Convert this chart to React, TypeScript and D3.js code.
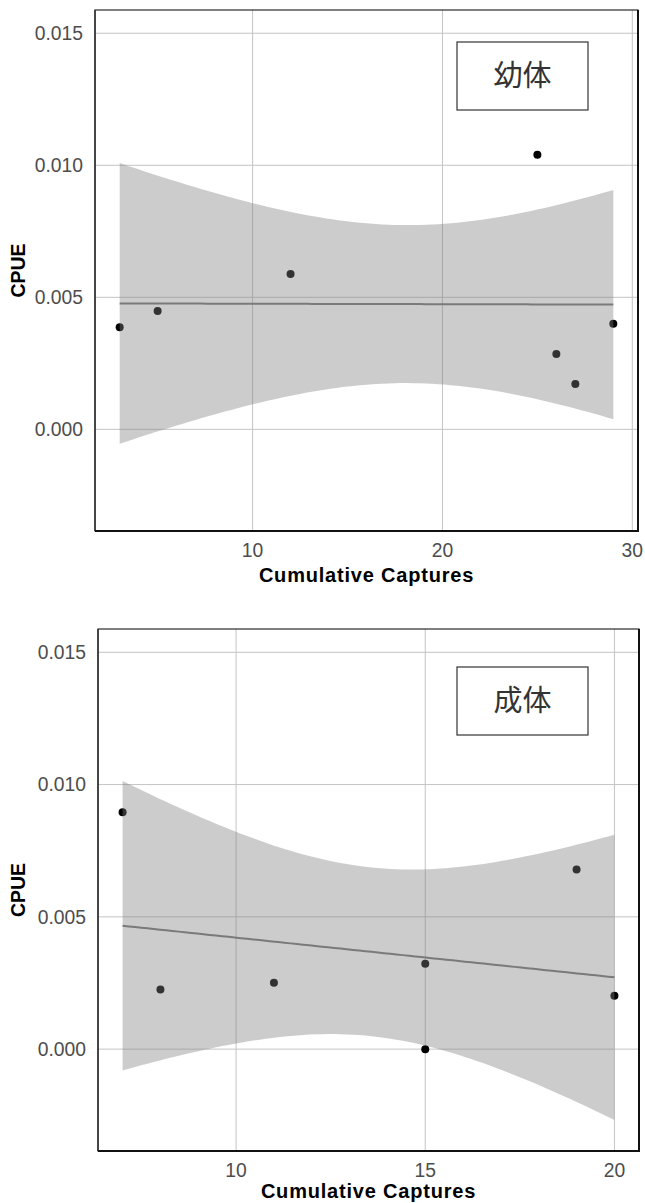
import React, { useEffect, useRef } from 'react';
import * as d3 from 'd3';

// 幼体 (juveniles)
const juvX = [3, 5, 12, 25, 26, 27, 29];
const juvY = [0.00387, 0.00448, 0.00588, 0.0104, 0.00285, 0.00172, 0.004];

// 成体 (adults)
const adultX = [7, 8, 11, 15, 15, 19, 20];
const adultY = [0.00895, 0.00225, 0.00251, 0.00323, 0.0, 0.00679, 0.00202];

const yTicks = [0, 0.005, 0.01, 0.015];
const juvXTicks = [10, 20, 30];
const adultXTicks = [10, 15, 20];

const T_975_DF5 = 2.5706; // t quantile for 95% CI, n = 7

function lmBand(xs: number[], ys: number[]) {
  const n = xs.length;
  const mx = d3.mean(xs) as number;
  const my = d3.mean(ys) as number;
  const sxx = d3.sum(xs, (x) => (x - mx) ** 2);
  const sxy = d3.sum(xs.map((x, i) => (x - mx) * (ys[i] - my)));
  const b = sxy / sxx;
  const a = my - b * mx;
  const sse = d3.sum(xs.map((x, i) => (ys[i] - (a + b * x)) ** 2));
  const s = Math.sqrt(sse / (n - 2));
  const [lo, hi] = d3.extent(xs) as [number, number];
  const grid = d3.range(80).map((i) => lo + ((hi - lo) * i) / 79);
  return grid.map((x) => {
    const fit = a + b * x;
    const se = s * Math.sqrt(1 / n + (x - mx) ** 2 / sxx);
    return { x, fit, lo: fit - T_975_DF5 * se, hi: fit + T_975_DF5 * se };
  });
}

function drawPanel(svg: any, opt: any) {
  const { left, right, top, bottom, xs, ys, xDomain, xTicks, label, box, titleDy } = opt;
  const x = d3.scaleLinear().domain(xDomain).range([left, right]);
  const y = d3.scaleLinear().domain([-0.00385, 0.01588]).range([bottom, top]);
  const g = svg.append('g');

  // grid
  g.selectAll('.gy').data(yTicks).enter().append('line')
    .attr('x1', left).attr('x2', right)
    .attr('y1', (d: number) => y(d)).attr('y2', (d: number) => y(d))
    .attr('stroke', '#c4c4c4').attr('stroke-width', 1);
  g.selectAll('.gx').data(xTicks).enter().append('line')
    .attr('x1', (d: number) => x(d)).attr('x2', (d: number) => x(d))
    .attr('y1', top).attr('y2', bottom)
    .attr('stroke', '#c4c4c4').attr('stroke-width', 1);

  // points
  g.selectAll('.pt').data(xs).enter().append('circle')
    .attr('cx', (d: number) => x(d))
    .attr('cy', (_: number, i: number) => y(ys[i]))
    .attr('r', 4).attr('fill', '#000');

  // smooth (lm + 95% CI)
  const band = lmBand(xs, ys);
  g.append('path').datum(band)
    .attr('fill', '#808080').attr('fill-opacity', 0.4)
    .attr('d', d3.area<any>().x((d) => x(d.x)).y0((d) => y(d.lo)).y1((d) => y(d.hi)));
  g.append('path').datum(band)
    .attr('fill', 'none').attr('stroke', '#7a7a7a').attr('stroke-width', 2)
    .attr('d', d3.line<any>().x((d) => x(d.x)).y((d) => y(d.fit)));

  // border
  g.append('rect').attr('x', left).attr('y', top)
    .attr('width', right - left).attr('height', bottom - top)
    .attr('fill', 'none').attr('stroke', '#000').attr('stroke-width', 1);
  g.append('line').attr('x1', left).attr('x2', left).attr('y1', top).attr('y2', bottom)
    .attr('stroke', '#333').attr('stroke-width', 1.5);
  g.append('line').attr('x1', left).attr('x2', right + 1).attr('y1', bottom).attr('y2', bottom)
    .attr('stroke', '#111').attr('stroke-width', 2);
  g.append('line').attr('x1', right).attr('x2', right).attr('y1', top).attr('y2', bottom)
    .attr('stroke', '#111').attr('stroke-width', 2);

  // tick labels
  g.selectAll('.ty').data(yTicks).enter().append('text')
    .attr('x', left - 12).attr('y', (d: number) => y(d))
    .attr('dy', '0.35em').attr('text-anchor', 'end')
    .attr('font-family', 'Liberation Sans, Arial, sans-serif').attr('font-size', 19.3)
    .attr('fill', '#4d4d4d').text((d: number) => d3.format('.3f')(d));
  g.selectAll('.tx').data(xTicks).enter().append('text')
    .attr('x', (d: number) => x(d)).attr('y', bottom + 26)
    .attr('text-anchor', 'middle')
    .attr('font-family', 'Liberation Sans, Arial, sans-serif').attr('font-size', 19.3)
    .attr('fill', '#4d4d4d').text((d: number) => d);

  // axis titles
  g.append('text').attr('x', (left + right) / 2).attr('y', bottom + titleDy)
    .attr('text-anchor', 'middle').attr('font-weight', 'bold')
    .attr('font-family', 'Liberation Sans, Arial, sans-serif').attr('font-size', 20)
    .attr('letter-spacing', 0.8)
    .attr('fill', '#000').text('Cumulative Captures');
  g.append('text')
    .attr('transform', `translate(25,${(top + bottom) / 2}) rotate(-90)`)
    .attr('text-anchor', 'middle').attr('font-weight', 'bold')
    .attr('font-family', 'Liberation Sans, Arial, sans-serif').attr('font-size', 19.5)
    .attr('fill', '#000').text('CPUE');

  // label box
  g.append('rect').attr('x', box.x).attr('y', box.y).attr('width', 131).attr('height', 68)
    .attr('fill', '#fff').attr('stroke', '#333').attr('stroke-width', 1.2);
  g.append('text').attr('x', box.x + 65.5).attr('y', box.y + 34)
    .attr('dy', '0.36em').attr('text-anchor', 'middle')
    .attr('font-family', 'Noto Sans CJK JP, sans-serif').attr('font-size', 29)
    .attr('fill', '#333').text(label);
}

export default function App() {
  const ref = useRef<SVGSVGElement | null>(null);

  useEffect(() => {
    const svg = d3.select(ref.current);
    svg.selectAll('*').remove();
    svg.append('rect').attr('width', 645).attr('height', 1203).attr('fill', '#fff');
    drawPanel(svg, {
      left: 95, right: 638, top: 10, bottom: 531,
      xs: juvX, ys: juvY, xDomain: [1.7, 30.3], xTicks: juvXTicks,
      label: '幼体', box: { x: 457, y: 42 }, titleDy: 51,
    });
    drawPanel(svg, {
      left: 98, right: 639, top: 629, bottom: 1151,
      xs: adultX, ys: adultY, xDomain: [6.35, 20.65], xTicks: adultXTicks,
      label: '成体', box: { x: 457, y: 667 }, titleDy: 47,
    });
  }, []);

  return (
    <svg
      ref={ref}
      width={645}
      height={1203}
      style={{ position: 'absolute', left: 0, top: 0, display: 'block' }}
    />
  );
}
